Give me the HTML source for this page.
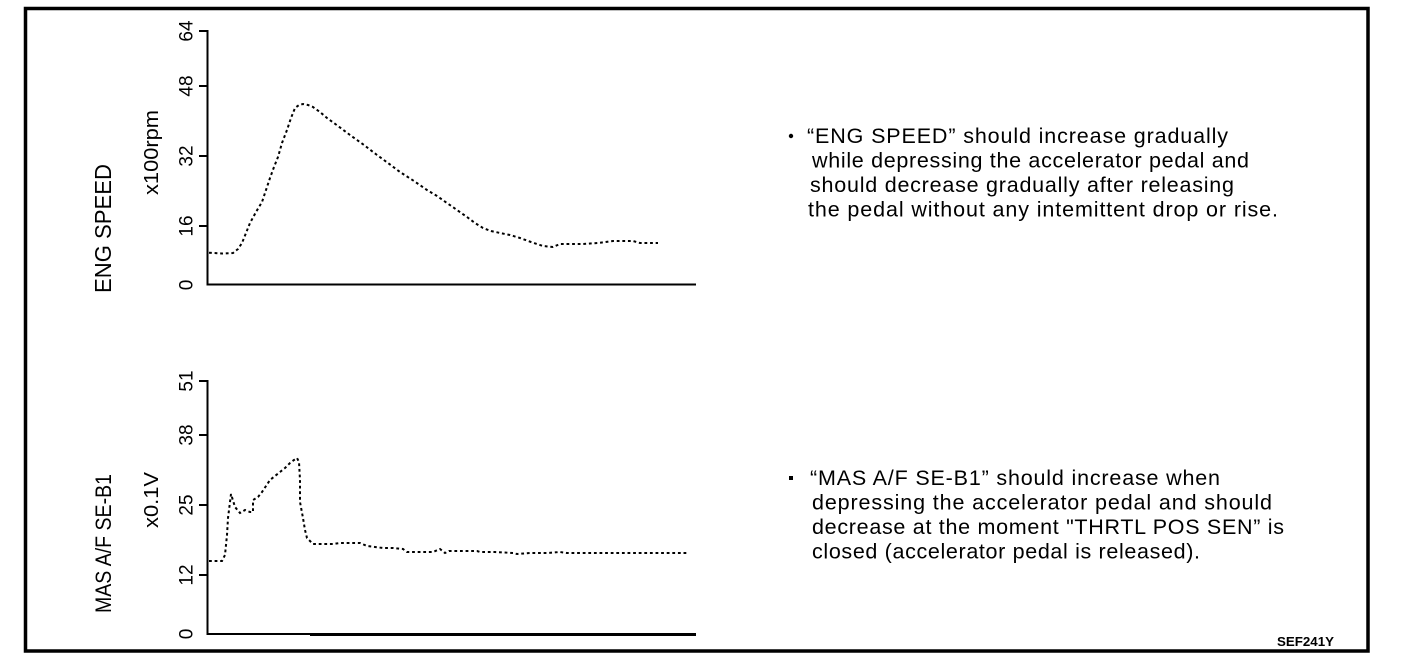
<!DOCTYPE html>
<html>
<head>
<meta charset="utf-8">
<style>
html,body{margin:0;padding:0;background:#fff;}
svg{display:block;}
text{font-family:"Liberation Sans",Arial,sans-serif;fill:#000;}
</style>
</head>
<body>
<svg width="1408" height="670" viewBox="0 0 1408 670" xmlns="http://www.w3.org/2000/svg">
<rect x="0" y="0" width="1408" height="670" fill="#fff"/>
<!-- frame -->
<rect x="25.5" y="8.5" width="1342.5" height="642.5" fill="none" stroke="#000" stroke-width="3.5"/>

<!-- ===== Top chart ===== -->
<g stroke="#000" stroke-width="2" fill="none">
  <line x1="207.5" y1="30" x2="207.5" y2="285.5"/>
  <line x1="206.5" y1="284.5" x2="696" y2="284.5"/>
  <line x1="199" y1="31" x2="208" y2="31"/>
  <line x1="199" y1="86" x2="208" y2="86"/>
  <line x1="199" y1="156" x2="208" y2="156"/>
  <line x1="199" y1="226" x2="208" y2="226"/>
</g>
<g font-size="19">
  <text transform="translate(192.5,31) rotate(-90)" text-anchor="middle">64</text>
  <text transform="translate(192.5,86) rotate(-90)" text-anchor="middle">48</text>
  <text transform="translate(192.5,156) rotate(-90)" text-anchor="middle">32</text>
  <text transform="translate(192.5,226) rotate(-90)" text-anchor="middle">16</text>
  <text transform="translate(192.5,285) rotate(-90)" text-anchor="middle">0</text>
</g>
<text transform="translate(158,195) rotate(-90)" font-size="20.5" textLength="85" lengthAdjust="spacingAndGlyphs">x100rpm</text>
<text transform="translate(111,293) rotate(-90)" font-size="23" textLength="129" lengthAdjust="spacingAndGlyphs">ENG SPEED</text>

<polyline fill="none" stroke="#000" stroke-width="2" stroke-dasharray="2.8 2.8"
 points="209,252.7 222,253.5 233,253 238,249 242,243 246,233 250,223 256,212 262,202 266,190 270,178 274,167 278,157 282,143 287,130 291,118 295,108 299,105 303,104 308,105 313,107 320,112 327,118 338,126 350,135 364,145 377,155 388,163 400,172 414,181 427,190 437,196 447,203 457,210 467,217 475,223 483,228 491,231 500,233 510,235 520,238 531,242 543,246 553,247 560,244 572,244 583,244 598,243 613,241 624,241 633,241 640,243 650,243 658,243"/>

<!-- ===== Bottom chart ===== -->
<g stroke="#000" stroke-width="2" fill="none">
  <line x1="207.5" y1="380" x2="207.5" y2="635"/>
  <line x1="206.5" y1="634" x2="310" y2="634"/>
  <line x1="199" y1="381" x2="208" y2="381"/>
  <line x1="199" y1="435" x2="208" y2="435"/>
  <line x1="199" y1="505" x2="208" y2="505"/>
  <line x1="199" y1="575" x2="208" y2="575"/>
</g>
<line x1="310" y1="634.5" x2="696" y2="634.5" stroke="#000" stroke-width="3"/>
<g font-size="19">
  <text transform="translate(192.5,381) rotate(-90)" text-anchor="middle">51</text>
  <text transform="translate(192.5,435) rotate(-90)" text-anchor="middle">38</text>
  <text transform="translate(192.5,505) rotate(-90)" text-anchor="middle">25</text>
  <text transform="translate(192.5,575) rotate(-90)" text-anchor="middle">12</text>
  <text transform="translate(192.5,634) rotate(-90)" text-anchor="middle">0</text>
</g>
<text transform="translate(158,528) rotate(-90)" font-size="20.5" textLength="56" lengthAdjust="spacingAndGlyphs">x0.1V</text>
<text transform="translate(111,613) rotate(-90)" font-size="22" textLength="139" lengthAdjust="spacingAndGlyphs">MAS A/F SE-B1</text>

<polyline fill="none" stroke="#000" stroke-width="2" stroke-dasharray="2.8 2.8"
 points="209,561 222,561 225,555 227,535 228,518 231,494 235,507 240,513 245,510 250,512 253,512 253,500 258,497 262,492 266,486 270,480 275,476 280,472 285,468 290,463 294,460 297,458 299,462 300,480 300,502 303,518 305,530 307,538 313,544 323,544 333,544 340,543 350,543 360,543 367,546 375,547 383,548 393,548 403,549 407,552 420,552 433,552 440,549 445,553 449,551 453,551 465,551 477,551 480,552 495,552 513,553 517,554 530,553 547,553 560,552 567,553 590,553 620,553 650,553 687,553"/>

<!-- ===== Text blocks ===== -->
<circle cx="791" cy="136" r="2.2" fill="#000"/>
<g font-size="21.5">
  <text x="807" y="143" textLength="421" lengthAdjust="spacing">“ENG SPEED” should increase gradually</text>
  <text x="812" y="167.5" textLength="437" lengthAdjust="spacing">while depressing the accelerator pedal and</text>
  <text x="810" y="192" textLength="424" lengthAdjust="spacing">should decrease gradually after releasing</text>
  <text x="808" y="216.5" textLength="470" lengthAdjust="spacing">the pedal without any intemittent drop or rise.</text>
</g>
<rect x="789" y="476" width="4" height="4" fill="#000"/>
<g font-size="21.5">
  <text x="810" y="485" textLength="410" lengthAdjust="spacing">“MAS A/F SE-B1” should increase when</text>
  <text x="812" y="509.5" textLength="460" lengthAdjust="spacing">depressing the accelerator pedal and  should</text>
  <text x="812" y="534" textLength="472" lengthAdjust="spacing">decrease at the moment "THRTL POS SEN” is</text>
  <text x="812" y="558.5" textLength="388" lengthAdjust="spacing">closed (accelerator pedal is released).</text>
</g>

<text x="1277" y="646" font-size="12.5" font-weight="bold" textLength="57" lengthAdjust="spacingAndGlyphs">SEF241Y</text>
</svg>
</body>
</html>
